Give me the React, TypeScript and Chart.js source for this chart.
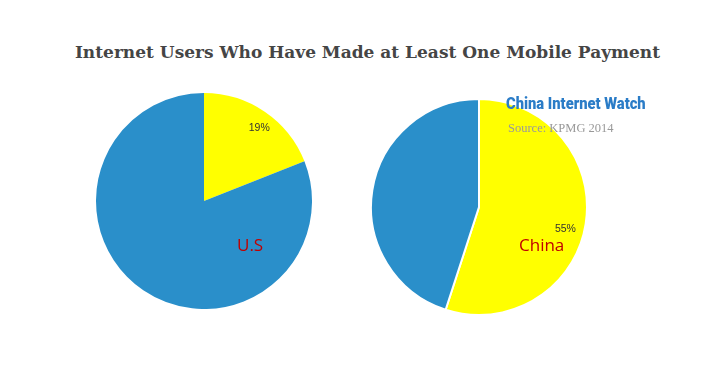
import React, { useEffect, useRef } from "react";
import { Chart, registerables } from "chart.js";

Chart.register(...registerables);

const titleText = "Internet Users Who Have Made at Least One Mobile Payment";
const usLabels = ["Made a mobile payment", "Did not"];
const usValues = [19, 81];
const chinaLabels = ["Made a mobile payment", "Did not"];
const chinaValues = [55, 45];
const sliceColors = ["#FFFF00", "#2A8FCA"];

const pctPlugin = {
  id: "pctLabel",
  afterDatasetsDraw(chart: any) {
    const meta = chart.getDatasetMeta(0);
    const arc = meta.data[0];
    const ds = chart.data.datasets[0];
    if (!arc) return;
    const o = chart.options.plugins.pctLabel || {};
    const mid = (arc.startAngle + arc.endAngle) / 2;
    const r = arc.outerRadius * (o.factor ?? 0.85);
    const x = arc.x + Math.cos(mid) * r + (o.dx ?? 0);
    const y = arc.y + Math.sin(mid) * r + (o.dy ?? 0);
    const ctx = chart.ctx;
    ctx.save();
    ctx.font = "10.5px 'Liberation Sans', Arial, sans-serif";
    ctx.fillStyle = "#333";
    ctx.textAlign = "center";
    ctx.textBaseline = "middle";
    ctx.fillText(ds.data[0] + "%", x, y);
    ctx.restore();
  },
};

function PieCanvas(props: { labels: string[]; values: number[]; size: number; border: number; factor: number; dx: number; dy: number }) {
  const ref = useRef<HTMLCanvasElement>(null);
  useEffect(() => {
    if (!ref.current) return;
    const chart = new Chart(ref.current, {
      type: "pie",
      data: {
        labels: props.labels,
        datasets: [
          {
            data: props.values,
            backgroundColor: sliceColors,
            borderColor: "#FFFFFF",
            borderWidth: props.border,
          },
        ],
      },
      options: {
        responsive: false,
        animation: false,
        devicePixelRatio: 1,
        layout: { padding: 0 },
        plugins: {
          legend: { display: false },
          tooltip: { enabled: false },
          title: { display: false },
          // @ts-ignore
          pctLabel: { factor: props.factor, dx: props.dx, dy: props.dy },
        },
      } as any,
      plugins: [pctPlugin],
    });
    return () => chart.destroy();
  }, []);
  return <canvas ref={ref} width={props.size} height={props.size} style={{ width: props.size, height: props.size }} />;
}

export default function App() {
  return (
    <div style={{ position: "absolute", left: 0, top: 0, width: 715, height: 367, background: "#fff", overflow: "hidden" }}>
      <div
        style={{
          position: "absolute",
          left: 0,
          width: 735,
          top: 42,
          textAlign: "center",
          fontFamily: "'DejaVu Serif', 'Liberation Serif', serif",
          fontWeight: "bold",
          fontSize: 17,
          color: "#454545",
          whiteSpace: "nowrap",
        }}
      >
        {titleText}
      </div>
      <div style={{ position: "absolute", left: 96, top: 93 }}>
        <PieCanvas labels={usLabels} values={usValues} size={216} border={0} factor={0.86} dx={3} dy={4} />
      </div>
      <div style={{ position: "absolute", left: 370, top: 98 }}>
        <PieCanvas labels={chinaLabels} values={chinaValues} size={218} border={2} factor={0.81} dx={0} dy={8} />
      </div>
      <div
        style={{
          position: "absolute",
          left: 506,
          top: 94,
          fontFamily: "Roboto, 'DejaVu Sans', sans-serif",
          fontWeight: 900,
          fontSize: 16,
          color: "#2A7CC7",
          whiteSpace: "nowrap",
          transform: "scaleX(0.92)",
          transformOrigin: "left center",
        }}
      >
        China Internet Watch
      </div>
      <div
        style={{
          position: "absolute",
          left: 508,
          top: 121,
          fontFamily: "'Liberation Serif', serif",
          fontSize: 12.5,
          color: "#999",
          whiteSpace: "nowrap",
        }}
      >
        Source: KPMG 2014
      </div>
      <div
        style={{
          position: "absolute",
          left: 237,
          top: 233,
          fontFamily: "'Open Sans', 'Liberation Sans', sans-serif",
          fontSize: 17,
          color: "#C00000",
          whiteSpace: "nowrap",
        }}
      >
        U.S
      </div>
      <div
        style={{
          position: "absolute",
          left: 519,
          top: 233,
          fontFamily: "'Open Sans', 'Liberation Sans', sans-serif",
          fontSize: 17,
          color: "#C00000",
          whiteSpace: "nowrap",
        }}
      >
        China
      </div>
    </div>
  );
}
